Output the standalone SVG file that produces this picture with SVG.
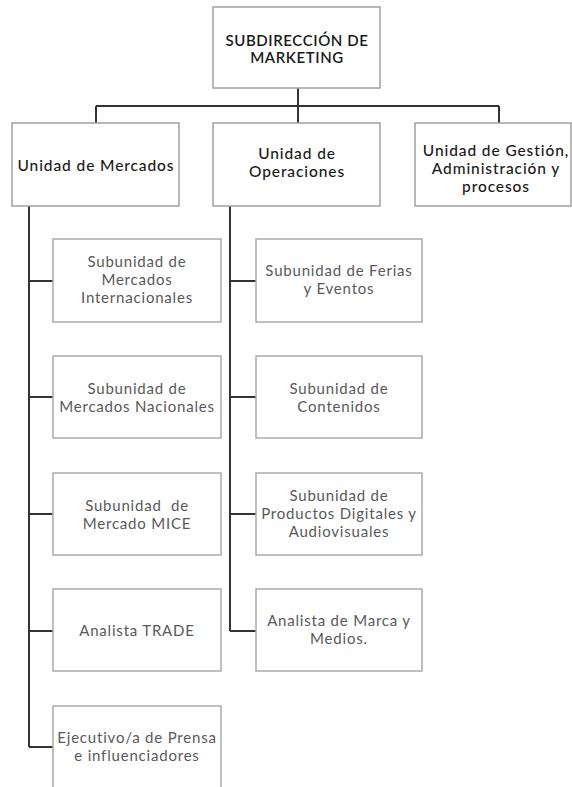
<svg xmlns="http://www.w3.org/2000/svg" width="572" height="787" viewBox="0 0 572 787">
<style>
.box{fill:#fff;stroke:#a0a0a0;stroke-width:1.5}
.sub{fill:#fff;stroke:#ababab;stroke-width:1.5}
.t1{font-family:Lato,"Liberation Sans",sans-serif;font-size:15.5px;font-weight:500;fill:#1a1a1a;text-anchor:middle;letter-spacing:0.9px}
.t0{font-family:Lato,"Liberation Sans",sans-serif;font-size:15px;font-weight:600;fill:#1a1a1a;text-anchor:middle;letter-spacing:0.6px}
.t2{font-family:Lato,"Liberation Sans",sans-serif;font-size:15px;fill:#595959;text-anchor:middle;letter-spacing:0.8px}
.c{fill:none;stroke:#333;stroke-width:2}
</style>
<rect width="572" height="787" fill="#fff"/>
<g id="connectors">
<path class="c" d="M298 88V123M96 106H499M96 106V123M298 106V123M499 106V123"/>
<path class="c" d="M29 206V747M29 281H53M29 397H53M29 514H53M29 631H53M29 747H53"/>
<path class="c" d="M230 206V631M230 281H256M230 397H256M230 514H256M230 631H256"/>
</g>
<g id="n-subdireccion">
<rect class="box" x="213" y="7" width="167" height="81"/>
<text class="t0" x="297" y="46">SUBDIRECCIÓN DE</text>
<text class="t0" x="297" y="63">MARKETING</text>
</g>
<g id="n-mercados">
<rect class="box" x="12" y="123" width="167" height="83"/>
<text class="t1" x="96" y="171">Unidad de Mercados</text>
</g>
<g id="n-operaciones">
<rect class="box" x="213" y="123" width="167" height="83"/>
<text class="t1" x="297" y="159">Unidad de</text>
<text class="t1" x="297" y="177">Operaciones</text>
</g>
<g id="n-gestion">
<rect class="box" x="415" y="123" width="156" height="83"/>
<text class="t1" x="496" y="156">Unidad de Gestión,</text>
<text class="t1" x="496" y="174">Administración y</text>
<text class="t1" x="496" y="192">procesos</text>
</g>
<g id="n-internacionales">
<rect class="sub" x="53" y="239" width="168" height="83"/>
<text class="t2" x="137" y="267">Subunidad de</text>
<text class="t2" x="137" y="285">Mercados</text>
<text class="t2" x="137" y="303">Internacionales</text>
</g>
<g id="n-nacionales">
<rect class="sub" x="53" y="356" width="168" height="82"/>
<text class="t2" x="137" y="394">Subunidad de</text>
<text class="t2" x="137" y="412">Mercados Nacionales</text>
</g>
<g id="n-mice">
<rect class="sub" x="53" y="473" width="168" height="82"/>
<text class="t2" x="137" y="511" xml:space="preserve">Subunidad  de</text>
<text class="t2" x="137" y="529">Mercado MICE</text>
</g>
<g id="n-trade">
<rect class="sub" x="53" y="589" width="168" height="82"/>
<text class="t2" x="137" y="636">Analista TRADE</text>
</g>
<g id="n-prensa">
<rect class="sub" x="53" y="706" width="168" height="100"/>
<text class="t2" x="137" y="743">Ejecutivo/a de Prensa</text>
<text class="t2" x="137" y="761">e influenciadores</text>
</g>
<g id="n-ferias">
<rect class="sub" x="256" y="239" width="166" height="83"/>
<text class="t2" x="339" y="276">Subunidad de Ferias</text>
<text class="t2" x="339" y="294">y Eventos</text>
</g>
<g id="n-contenidos">
<rect class="sub" x="256" y="356" width="166" height="82"/>
<text class="t2" x="339" y="394">Subunidad de</text>
<text class="t2" x="339" y="412">Contenidos</text>
</g>
<g id="n-digitales">
<rect class="sub" x="256" y="473" width="166" height="82"/>
<text class="t2" x="339" y="501">Subunidad de</text>
<text class="t2" x="339" y="519">Productos Digitales y</text>
<text class="t2" x="339" y="537">Audiovisuales</text>
</g>
<g id="n-marca">
<rect class="sub" x="256" y="589" width="166" height="82"/>
<text class="t2" x="339" y="626">Analista de Marca y</text>
<text class="t2" x="339" y="644">Medios.</text>
</g>
</svg>
